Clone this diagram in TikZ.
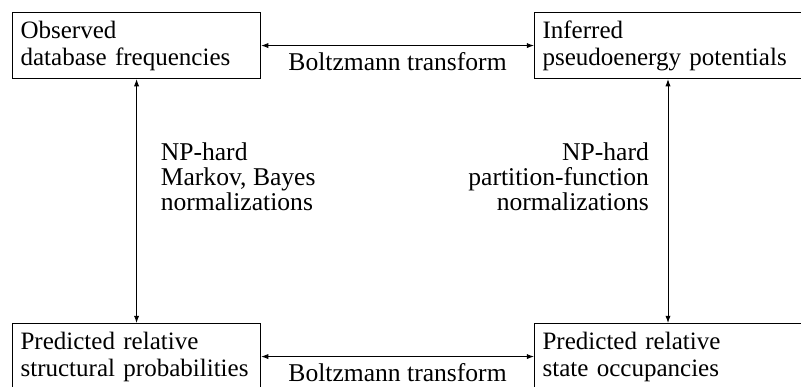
\documentclass[tikz,border=0pt]{standalone}
\usepackage{fontspec}
\setmainfont{Liberation Serif}
\usetikzlibrary{arrows.meta, positioning}

\begin{document}
\begin{tikzpicture}[
    font=\fontsize{18.2}{17.7}\selectfont,
    box/.style={rectangle, draw=black, line width=0.8pt, anchor=north west, minimum height=1.65cm, text width=5.8cm, inner xsep=0.2cm, align=left, font=\fontsize{17.8}{19.2}\selectfont},
    conn/.style={{Latex[length=1.8mm,width=1.3mm]}-{Latex[length=1.8mm,width=1.3mm]}, line width=0.6pt}
]
    \useasboundingbox (0,0) rectangle (20.025,-9.675);
    \clip (0,0) rectangle (20.025,-9.675);

    % Observed frequencies
    \node[box] (obs) at (0.3,-0.3) {Observed\\database frequencies};

    % Inferred potentials
    \node[box, text width=8cm] (pot) at (13.35,-0.3) {Inferred\\pseudoenergy potentials};

    % Predicted probabilities
    \node[box] (prob) at (0.3,-8.075) {Predicted relative\\\mbox{structural probabilities}};

    % Predicted occupancies
    \node[box, text width=8cm] (occ) at (13.35,-8.075) {Predicted relative\\state occupancies};

    % Connections
    \draw[conn] (obs.east) -- (pot.west) node[midway, below, yshift=-0.05cm] {Boltzmann transform};
    \draw[conn] (prob.east) -- (occ.west) node[midway, below, yshift=-0.05cm] {Boltzmann transform};
    \draw[conn] (obs.south) -- (prob.north) node[pos=0.4, right, xshift=0.48cm, align=left] {NP-hard\\Markov, Bayes\\normalizations};
    \draw[conn] ([xshift=3.35cm]pot.south west) -- ([xshift=3.35cm]occ.north west) node[pos=0.4, left, xshift=-0.35cm, align=right] {NP-hard\\partition-function\\normalizations};
\end{tikzpicture}
\end{document}
